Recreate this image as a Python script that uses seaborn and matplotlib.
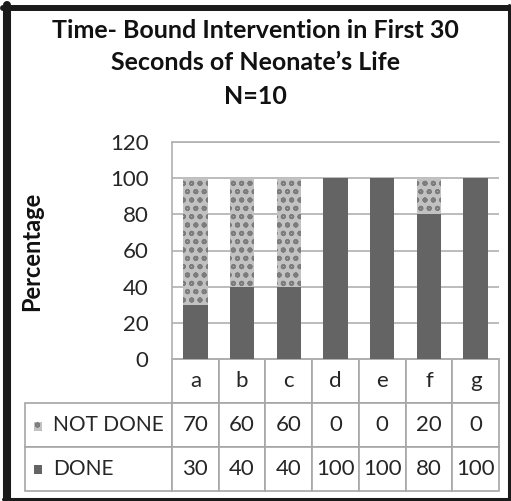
import matplotlib
matplotlib.use('Agg')
import matplotlib.pyplot as plt
import seaborn as sns
from matplotlib.table import Table
from matplotlib.lines import Line2D
from matplotlib.patches import Rectangle

# data
categories = ['a', 'b', 'c', 'd', 'e', 'f', 'g']
not_done = [70, 60, 60, 0, 0, 20, 0]
done = [30, 40, 40, 100, 100, 80, 100]
series_names = ['NOT DONE', 'DONE']
title_lines = ['Time- Bound Intervention in First 30',
               'Seconds of Neonate\u2019s Life',
               'N=10']
yticks = [0, 20, 40, 60, 80, 100, 120]

sns.set_style('white')
plt.rcParams['font.family'] = ['Lato', 'DejaVu Sans']
plt.rcParams['hatch.linewidth'] = 1.3

W, H = 511, 501
fig = plt.figure(figsize=(W / 100, H / 100), dpi=100)
ax = fig.add_axes([172 / W, 1 - 359 / H, 327 / W, 217 / H])

light = '#c2c2c2'
hatch_col = '#7c7c7c'
dark = '#646464'
grid_col = '#b0b0b0'
text_col = '#262626'

# stacked bars: full height (NOT DONE on top) then DONE over it
totals = [a + b for a, b in zip(not_done, done)]
sns.barplot(x=categories, y=totals, color=light, saturation=1, width=0.52,
            hatch='oo', edgecolor=hatch_col, linewidth=0, ax=ax, zorder=2)
sns.barplot(x=categories, y=done, color=dark, saturation=1, width=0.52,
            linewidth=0, ax=ax, zorder=3)

ax.set_xlim(-0.5, len(categories) - 0.5)
ax.set_ylim(0, 120)
ax.set_yticks(yticks)
ax.set_xticks([])
ax.set_xlabel('')
ax.set_ylabel('')
ax.yaxis.grid(True, color=grid_col, linewidth=1.2)
ax.set_axisbelow(True)
for s in ['top', 'left', 'bottom']:
    ax.spines[s].set_color(grid_col)
    ax.spines[s].set_linewidth(1.2)
ax.spines['right'].set_visible(False)
ax.tick_params(axis='y', length=0, pad=17, labelsize=16, labelcolor=text_col)

# data table under the plot
tbl = Table(ax, bbox=[-147 / 327, -132 / 217, 474 / 327, 132 / 217])
col_w = [147] + [46.7] * len(categories)
row_h = 44
tbl.add_cell(0, 0, col_w[0], row_h, text='').visible_edges = 'open'
for j, c in enumerate(categories):
    tbl.add_cell(0, j + 1, col_w[j + 1], row_h, text=c, loc='center')
row_label_cells = []
for i, (name, vals) in enumerate(zip(series_names, [not_done, done])):
    cell = tbl.add_cell(i + 1, 0, col_w[0], row_h, text=name, loc='left')
    cell.PAD = 0.19
    row_label_cells.append(cell)
    for j, v in enumerate(vals):
        tbl.add_cell(i + 1, j + 1, col_w[j + 1], row_h, text=str(v), loc='center')
tbl.auto_set_font_size(False)
tbl.set_fontsize(16)
for cell in tbl.get_celld().values():
    cell.set_edgecolor('#a6a6a6')
    cell.set_linewidth(1.2)
    cell.get_text().set_color(text_col)
for cell in row_label_cells:
    cell.get_text().set_fontsize(15)
ax.add_table(tbl)

# legend keys inside table
ax.add_patch(Rectangle(((34 - 172) / 327, (359 - 431) / 217), 8 / 327, 9 / 217,
                       transform=ax.transAxes, clip_on=False, facecolor=light,
                       hatch='oo', edgecolor=hatch_col, linewidth=0))
ax.add_patch(Rectangle(((34 - 172) / 327, (359 - 474) / 217), 8 / 327, 9 / 217,
                       transform=ax.transAxes, clip_on=False, facecolor=dark,
                       linewidth=0))

# titles
for k, line in enumerate(title_lines):
    fig.text(0.5, 1 - (30 + 33 * k) / H, line, ha='center', va='center',
             fontsize=18, fontweight='bold', color='#111111')
fig.text(32 / W, 1 - 251 / H, 'Percentage', rotation=90, ha='center',
         va='center', fontsize=17, fontweight='bold', color='#111111')

# outer frame
frame = '#1a1a1a'
fig.add_artist(Line2D([7 / W, 7 / W], [1 - 5 / H, 1 - 500 / H], color=frame, lw=5.8))
fig.add_artist(Line2D([3 / W, 510 / W], [1 - 8 / H, 1 - 8 / H], color=frame, lw=4.3))
fig.add_artist(Line2D([509 / W, 509 / W], [1 - 5 / H, 1 - 500 / H], color=frame, lw=2.2))
fig.add_artist(Line2D([3 / W, 510 / W], [1 - 499 / H, 1 - 499 / H], color=frame, lw=2.2))

fig.savefig('out.png', dpi=100)
